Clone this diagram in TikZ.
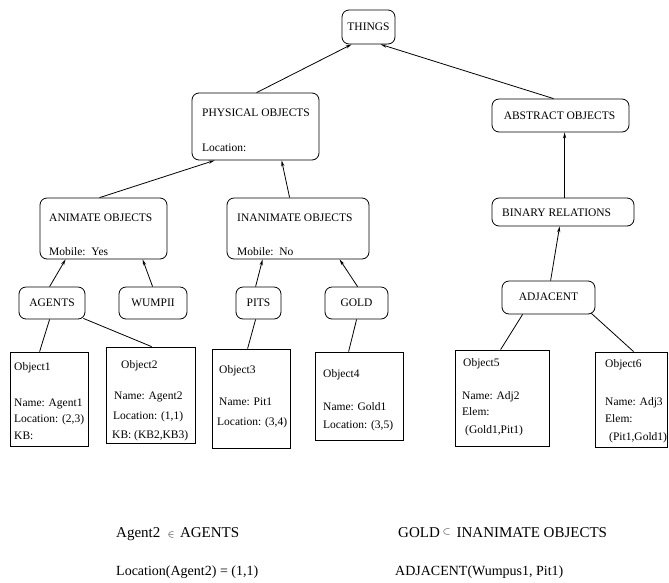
\documentclass[tikz,border=0pt]{standalone}
\usepackage{fontspec}
\setmainfont{Liberation Serif}
\usetikzlibrary{fit,arrows.meta}
\tikzset{
  rbox/.style={draw, line width=0.8pt, rounded corners=7pt, inner sep=0pt, fit={#1}},
  sbox/.style={draw, line width=0.8pt, inner sep=0pt, fit={#1}},
  txt/.style={anchor=base west, inner sep=0pt, font=\fontsize{11.5}{13}\selectfont},
  ctxt/.style={inner sep=0pt, font=\fontsize{11.5}{13}\selectfont},
  btxt/.style={anchor=base west, inner sep=0pt, font=\fontsize{14}{16}\selectfont},
  bigtxt/.style={anchor=base west, inner sep=0pt, font=\fontsize{15}{17}\selectfont},
  arr/.style={line width=0.8pt, -{Stealth[length=6pt,width=3.2pt,open]}},
  ln/.style={line width=0.8pt}
}
\newcommand{\smallsym}[1]{{\fontsize{10}{10}\selectfont$#1$}}
\begin{document}
\begin{tikzpicture}[x=1pt,y=-1pt]
\useasboundingbox (0,0) rectangle (669,582);
% rounded boxes
\node[rbox={(342,10)(395,44)}] (things) {};
\node[ctxt] (thingsT) at (things.center) {THINGS};
\node[rbox={(192,93)(319,160)}] (phys) {};
\node[txt] (physT) at (202,116) {PHYSICAL OBJECTS};
\node[txt] (physL) at (202,151) {Location:};
\node[rbox={(492,99)(629,132)}] (abstr) {};
\node[ctxt] (abstrT) at ([xshift=-1pt]abstr.center) {ABSTRACT OBJECTS};
\node[rbox={(40,198)(167,259)}] (anim) {};
\node[txt] (animT) at (49,221) {ANIMATE OBJECTS};
\node[txt] (animM) at (49,255) {Mobile:\ \ Yes};
\node[rbox={(227,198)(369,259)}] (inan) {};
\node[txt] (inanT) at (237,221) {INANIMATE OBJECTS};
\node[txt] (inanM) at (237,255) {Mobile:\ \ No};
\node[rbox={(492,198)(634,226)}] (binary) {};
\node[txt] (binaryT) at (502,216) {BINARY RELATIONS};
\node[rbox={(19,287)(85,319)}] (agents) {};
\node[ctxt] (agentsT) at (agents.center) {AGENTS};
\node[rbox={(119,287)(187,319)}] (wumpii) {};
\node[ctxt] (wumpiiT) at (wumpii.center) {WUMPII};
\node[rbox={(236,287)(281,319)}] (pits) {};
\node[ctxt] (pitsT) at (pits.center) {PITS};
\node[rbox={(325,287)(388,319)}] (gold) {};
\node[ctxt] (goldT) at (gold.center) {GOLD};
\node[rbox={(502,281)(595,314)}] (adj) {};
\node[ctxt] (adjT) at ([yshift=1pt]adj.center) {ADJACENT};
% object boxes
\node[sbox={(10,352)(88,446)}] (obj1) {};
\node[txt] (o1a) at (14,370) {Object1};
\node[txt] (o1b) at (14,406) {Name: Agent1};
\node[txt] (o1c) at (14,422) {Location: (2,3)};
\node[txt] (o1d) at (14,439) {KB:};
\node[sbox={(106,347)(195,443)}] (obj2) {};
\node[txt] (o2a) at (121,368) {Object2};
\node[txt] (o2b) at (114,399) {Name: Agent2};
\node[txt] (o2c) at (113,419) {Location: (1,1)};
\node[txt] (o2d) at (112,438) {KB: (KB2,KB3)};
\node[sbox={(212,349)(290,448)}] (obj3) {};
\node[txt] (o3a) at (219,373) {Object3};
\node[txt] (o3b) at (219,405) {Name: Pit1};
\node[txt] (o3c) at (217,425) {Location: (3,4)};
\node[sbox={(315,352)(403,440)}] (obj4) {};
\node[txt] (o4a) at (323,377) {Object4};
\node[txt] (o4b) at (323,410) {Name: Gold1};
\node[txt] (o4c) at (323,428) {Location: (3,5)};
\node[sbox={(455,350)(549,446)}] (obj5) {};
\node[txt] (o5a) at (463,366) {Object5};
\node[txt] (o5b) at (462,399) {Name: Adj2};
\node[txt] (o5c) at (462,415) {Elem:};
\node[txt] (o5d) at (465,433) {(Gold1,Pit1)};
\node[sbox={(595,352)(667.5,447)}] (obj6) {};
\node[txt] (o6a) at (605,367) {Object6};
\node[txt] (o6b) at (605,405) {Name: Adj3};
\node[txt] (o6c) at (605,422) {Elem:};
\node[txt] (o6d) at (609,440) {(Pit1,Gold1)};
% bottom text
\node[bigtxt] (f1) at (116,537) {Agent2\hspace{7.5pt}\smallsym{\in}\hspace{5.5pt}AGENTS};
\node[btxt] (f2) at (116,575) {Location(Agent2) = (1,1)};
\node[bigtxt] (f3) at (398,537) {GOLD\hspace{3pt}\raisebox{2.5pt}{\smallsym{\subset}}\hspace{6pt}INANIMATE OBJECTS};
\node[btxt] (f4) at (395,575) {ADJACENT(Wumpus1, Pit1)};
% arrows
\draw[arr] ([xshift=65pt]phys.north west) -- ([xshift=10pt]things.south west);
\draw[arr] ([xshift=62pt]abstr.north west) -- ([xshift=39pt]things.south west);
\draw[arr] ([xshift=60pt]anim.north west) -- ([xshift=23pt]phys.south west);
\draw[arr] ([xshift=63pt]inan.north west) -- ([xshift=90pt]phys.south west);
\draw[arr] ([xshift=31pt]agents.north west) -- ([xshift=26pt]anim.south west);
\draw[arr] ([xshift=34pt]wumpii.north west) -- ([xshift=103pt]anim.south west);
\draw[arr] ([xshift=20pt]pits.north west) -- ([xshift=36pt]inan.south west);
\draw[arr] ([xshift=33pt]gold.north west) -- ([xshift=113pt]inan.south west);
\draw[arr] ([xshift=73pt]binary.north west) -- ([xshift=73pt]abstr.south west);
\draw[arr] ([xshift=49pt]adj.north west) -- ([xshift=68pt]binary.south west);
% plain lines
\draw[ln] ([xshift=31pt]agents.south west) -- ([xshift=30pt]obj1.north west);
\draw[ln] ([xshift=-2pt,yshift=1pt]agents.south east) -- ([xshift=46pt]obj2.north west);
\draw[ln] ([xshift=20pt]pits.south west) -- ([xshift=36pt]obj3.north west);
\draw[ln] ([xshift=32pt]gold.south west) -- ([xshift=34pt]obj4.north west);
\draw[ln] ([xshift=21pt]adj.south west) -- ([xshift=46pt]obj5.north west);
\draw[ln] ([xshift=-4pt,yshift=1pt]adj.south east) -- ([xshift=39pt]obj6.north west);
\end{tikzpicture}
\end{document}
